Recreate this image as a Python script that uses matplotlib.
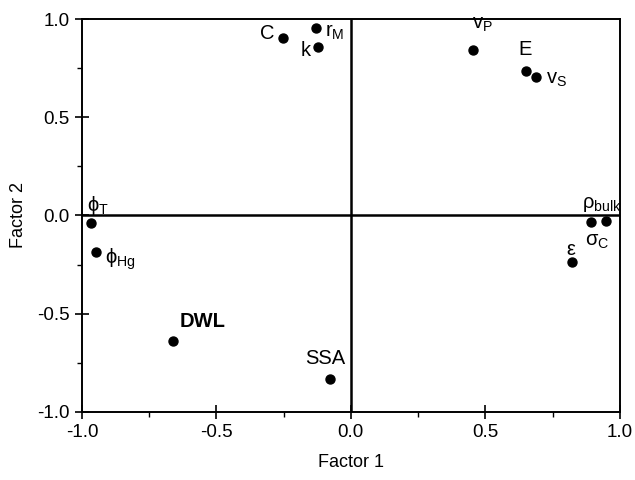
import matplotlib
matplotlib.use("Agg")
import matplotlib.pyplot as plt
from matplotlib.ticker import MultipleLocator

plt.rcParams["font.family"] = ["Liberation Sans", "DejaVu Sans"]
plt.rcParams["mathtext.fontset"] = "custom"
plt.rcParams["mathtext.rm"] = "Liberation Sans"
plt.rcParams["mathtext.it"] = "Liberation Sans"
plt.rcParams["mathtext.bf"] = "Liberation Sans:bold"
plt.rcParams["mathtext.fallback"] = "stixsans"

# factor loadings
labels = ["C", r"r$_\mathrm{M}$", "k", r"v$_\mathrm{P}$", "E", r"v$_\mathrm{S}$",
          r"$\phi_\mathrm{T}$", r"$\phi_\mathrm{Hg}$", r"ρ$_\mathrm{bulk}$", r"σ$_\mathrm{C}$",
          "ε", "DWL", "SSA"]
factor1 = [-0.253, -0.130, -0.123, 0.454, 0.651, 0.688,
           -0.967, -0.948, 0.948, 0.892, 0.822, -0.662, -0.078]
factor2 = [0.903, 0.954, 0.857, 0.842, 0.735, 0.705,
           -0.038, -0.186, -0.028, -0.033, -0.237, -0.639, -0.832]

# label offsets in pixels (dx, dy)
offsets = [(-16, 5), (19, -4), (-12, -3), (10, 26), (-1, 22), (21, -3),
           (7, 17), (24, -7), (-4, 16), (6, -20), (-1, 13), (30, 20), (-5, 20)]

fig = plt.figure(figsize=(6.35, 4.8), dpi=100)
ax = fig.add_axes([0.129, 0.1417, 0.847, 0.8187])

ax.axhline(0, color="black", lw=1.8, zorder=1)
ax.axvline(0, color="black", lw=1.8, zorder=1)
ax.scatter(factor1, factor2, s=42, color="black", zorder=3)

for lab, x, y, (dx, dy) in zip(labels, factor1, factor2, offsets):
    ax.annotate(lab, (x, y), xytext=(dx, dy), textcoords="offset pixels",
                ha="center", va="center", fontsize=14.5,
                fontweight="bold" if lab == "DWL" else "normal")

ax.set_xlim(-1.0, 1.0)
ax.set_ylim(-1.0, 1.0)
ax.xaxis.set_major_locator(MultipleLocator(0.5))
ax.xaxis.set_minor_locator(MultipleLocator(0.25))
ax.yaxis.set_major_locator(MultipleLocator(0.5))
ax.yaxis.set_minor_locator(MultipleLocator(0.25))
ax.xaxis.set_major_formatter(lambda v, p: f"{v:.1f}")
ax.yaxis.set_major_formatter(lambda v, p: f"{v:.1f}")
ax.tick_params(which="major", direction="inout", length=10, width=1.2,
               labelsize=13.5, pad=4)
ax.tick_params(which="minor", direction="out", length=3.5, width=1.0)
for s in ax.spines.values():
    s.set_linewidth(1.4)

ax.set_xlabel("Factor 1", fontsize=13, labelpad=9)
ax.set_ylabel("Factor 2", fontsize=13, labelpad=7)

fig.savefig("out.png", dpi=100)
